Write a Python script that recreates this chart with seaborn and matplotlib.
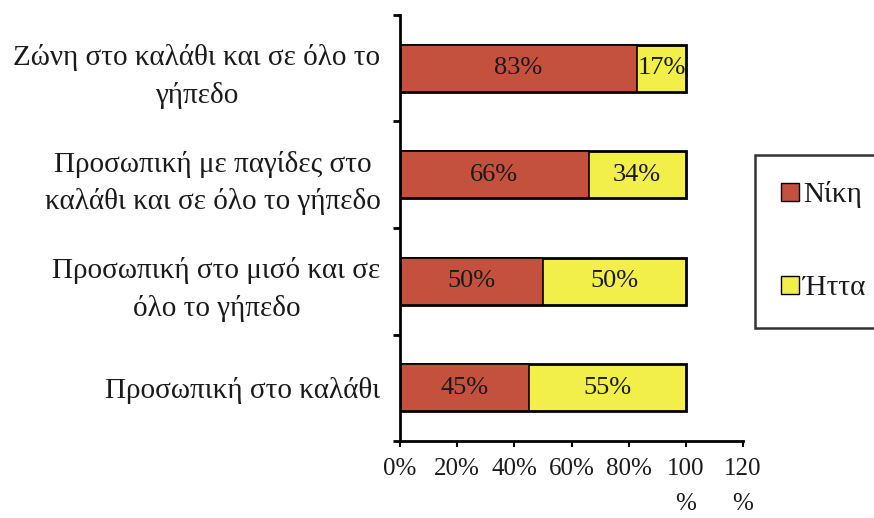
import seaborn as sns
import pandas as pd
import matplotlib.pyplot as plt
from matplotlib.patches import Patch

# stacked horizontal bars: win / loss share per defence type

categories = [
    "Ζώνη στο καλάθι και σε όλο το\nγήπεδο",
    "Προσωπική με παγίδες στο\nκαλάθι και σε όλο το γήπεδο",
    "Προσωπική στο μισό και σε\nόλο το γήπεδο",
    "Προσωπική στο καλάθι",
]
wins = [83, 66, 50, 45]
losses = [17, 34, 50, 55]
xtick_values = [0, 20, 40, 60, 80, 100, 120]
xtick_labels = ["0%", "20%", "40%", "60%", "80%", "100\n%", "120\n%"]

RED = "#C4503E"
YELLOW = "#F2EE4A"
INK = "#1a1a1a"

df = pd.DataFrame({"category": categories, "win": wins, "loss": losses})
df["total"] = df["win"] + df["loss"]

sns.set_style("white")
plt.rcParams["font.family"] = ["Liberation Serif", "DejaVu Serif"]
plt.rcParams["text.color"] = INK
plt.rcParams["xtick.color"] = "black"
plt.rcParams["ytick.color"] = "black"
plt.rcParams["xtick.labelcolor"] = INK
plt.rcParams["ytick.labelcolor"] = INK

fig = plt.figure(figsize=(8.74, 5.18), dpi=100)
ax = fig.add_axes([400 / 874, 1 - 441 / 518, (743 - 400) / 874, (441 - 15) / 518])

sns.barplot(data=df, x="total", y="category", color=YELLOW, width=0.44,
            edgecolor="black", linewidth=2, saturation=1, ax=ax)
sns.barplot(data=df, x="win", y="category", color=RED, width=0.44,
            edgecolor="black", linewidth=1.2, saturation=1, ax=ax)

for i, (w, l) in enumerate(zip(wins, losses)):
    ax.text(w / 2, i, f"{w}%", ha="center", va="center", fontsize=19)
    ax.text(w + l / 2, i, f"{l}%", ha="center", va="center", fontsize=19)

ax.set_xlim(0, 120)
ax.set_ylim(len(categories) - 0.5, -0.5)
ax.set_xticks(xtick_values)
ax.set_xticklabels(xtick_labels, fontsize=18, linespacing=1.8)
ax.set_yticks(range(len(categories)))
ax.set_yticklabels(categories, fontsize=21, multialignment="center", linespacing=1.5)
ax.set_yticks([i - 0.5 for i in range(len(categories) + 1)], minor=True)
ax.tick_params(axis="y", which="major", length=0, pad=14)
ax.tick_params(axis="y", which="minor", length=5, width=2, direction="out", left=True)
ax.tick_params(axis="x", length=4, width=1.5, direction="out", bottom=True, pad=8)
ax.set_xlabel("")
ax.set_ylabel("")

for side in ["top", "right"]:
    ax.spines[side].set_visible(False)
for side in ["left", "bottom"]:
    ax.spines[side].set_color("black")
    ax.spines[side].set_linewidth(2)

handles = [Patch(facecolor=RED, edgecolor="black", label="Νίκη"),
           Patch(facecolor=YELLOW, edgecolor="black", label="Ήττα")]
leg = fig.legend(handles=handles, loc="upper left",
                 bbox_to_anchor=(755 / 874, 1 - 155 / 518),
                 fontsize=21, frameon=True, fancybox=False,
                 handlelength=0.6, handleheight=0.6, handletextpad=0.15,
                 labelspacing=2.3, borderpad=0.9, borderaxespad=0)
leg.get_frame().set_edgecolor("black")
leg.get_frame().set_linewidth(1.8)

fig.savefig("out.png", dpi=100)
